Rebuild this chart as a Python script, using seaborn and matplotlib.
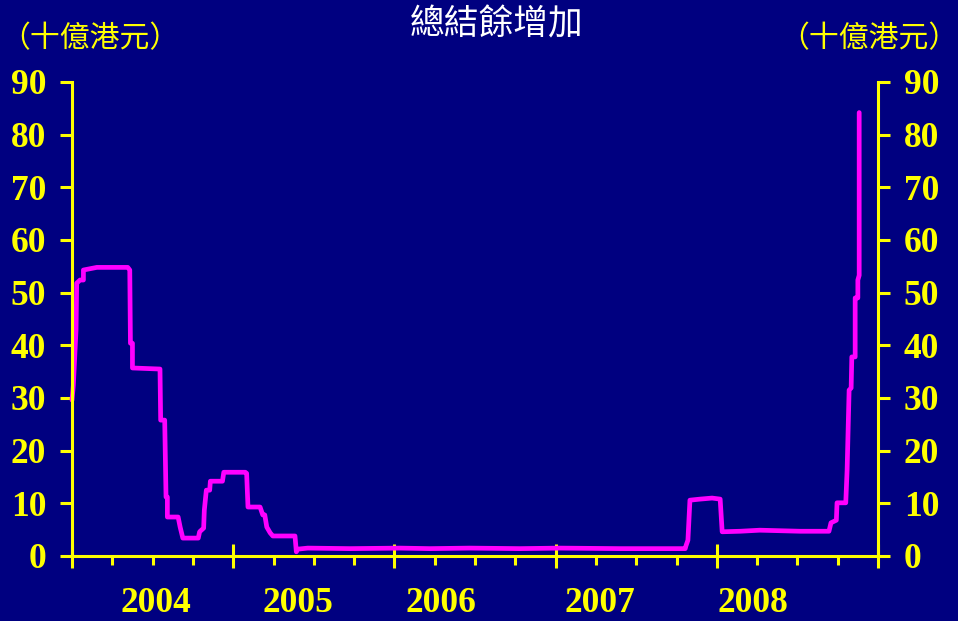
import numpy as np
import pandas as pd
import matplotlib
matplotlib.use("Agg")
import matplotlib.pyplot as plt
import matplotlib.transforms as mtransforms
import seaborn as sns

# ---- data (x = months since Jan 2004, y = HK$ billion) ----
months = [0.0, 0.1, 0.3, 0.35, 0.6, 0.85, 0.85, 1.45, 1.85, 4.15, 4.3, 4.35, 4.5, 4.5,
          6.55, 6.6, 6.9, 7.0, 7.1, 7.1, 7.9, 8.05, 8.25, 9.4, 9.5, 9.8, 9.85, 10.0,
          10.25, 10.3, 11.2, 11.3, 12.9, 13.0, 13.1, 14.0, 14.2, 14.35, 14.5, 14.75,
          14.95, 16.6, 16.7, 16.8, 17.55, 20.7, 24.4, 26.65, 29.6, 33.35, 36.3, 40.8,
          43.8, 45.65, 45.7, 45.85, 46.0, 46.75, 47.65, 48.25, 48.4, 49.75, 51.2, 54.2,
          56.35, 56.5, 56.9, 56.95, 57.6, 57.7, 57.85, 58.0, 58.05, 58.3, 58.3, 58.5,
          58.5, 58.6, 58.6]
balance = [29.6, 32.4, 42.9, 51.8, 52.4, 52.4, 54.3, 54.6, 54.8, 54.8, 54.3, 40.4, 40.4, 35.7,
           35.5, 25.8, 25.8, 11.2, 11.2, 7.4, 7.4, 5.5, 3.4, 3.4, 4.6, 5.3, 8.7, 12.5,
           12.5, 14.2, 14.2, 15.9, 15.9, 15.7, 9.3, 9.3, 7.8, 7.8, 5.5, 4.4,
           3.8, 3.8, 0.8, 1.3, 1.5, 1.4, 1.5, 1.4, 1.5, 1.4, 1.5, 1.4,
           1.4, 1.4, 1.9, 3.0, 10.6, 10.8, 11.0, 10.8, 4.6, 4.7, 4.9, 4.7,
           4.7, 6.3, 6.8, 10.1, 10.1, 16.3, 31.5, 31.9, 37.8, 37.8, 49.0, 49.0,
           52.4, 53.3, 84.2]

year_labels = ["2004", "2005", "2006", "2007", "2008"]
year_label_pos = [6.25, 16.8, 27.5, 39.3, 50.7]
major_x = [0, 12, 24, 36, 48, 60]
minor_x = list(range(0, 61, 3))
y_ticks = [0, 10, 20, 30, 40, 50, 60, 70, 80, 90]

title = "總結餘增加"
unit = "（十億港元）"

NAVY = "#000080"
YELLOW = "#FFFF00"
MAGENTA = "#FF00FF"

sns.set_theme(style="ticks", rc={"figure.facecolor": NAVY, "axes.facecolor": NAVY,
                                 "savefig.facecolor": NAVY})
plt.rcParams["font.family"] = ["Noto Sans CJK TC", "DejaVu Sans"]

fig = plt.figure(figsize=(9.58, 6.21), dpi=100)
ax = fig.add_axes([72 / 958, 1 - 556 / 621, (878 - 72) / 958, (556 - 82) / 621])

df = pd.DataFrame({"month": months, "balance": balance})
sns.lineplot(data=df, x="month", y="balance", estimator=None, sort=False,
             color=MAGENTA, linewidth=3.4, ax=ax, clip_on=False)

ax.set_xlim(0, 60)
ax.set_ylim(0, 90)
ax.set_xlabel("")
ax.set_ylabel("")

for side in ["left", "right", "bottom"]:
    ax.spines[side].set_visible(True)
    ax.spines[side].set_color(YELLOW)
    ax.spines[side].set_linewidth(2.2)
ax.spines["top"].set_visible(False)

ax.set_xticks(major_x)
ax.set_xticks(minor_x, minor=True)
ax.set_xticklabels([])
ax.tick_params(axis="x", which="major", direction="inout", length=17, width=2.2,
               color=YELLOW, labelbottom=False)
ax.tick_params(axis="x", which="minor", direction="out", length=6.5, width=2.2,
               color=YELLOW)

ax.set_yticks(y_ticks)
ax.set_yticklabels([str(v) for v in y_ticks])
ax.tick_params(axis="y", which="major", direction="out", length=8.5, width=2.2,
               color=YELLOW, left=True, right=True, labelleft=True, labelright=True,
               pad=10, labelcolor=YELLOW)
for lab in ax.get_yticklabels():
    lab.set_fontfamily("Liberation Serif")
    lab.set_fontweight("bold")
    lab.set_fontsize(25.5)

trans = mtransforms.blended_transform_factory(ax.transData, fig.transFigure)
for pos, lab in zip(year_label_pos, year_labels):
    fig.text(pos, 1 - 604 / 621, lab, transform=trans, ha="center", va="center",
             color=YELLOW, fontfamily="Liberation Serif", fontweight="bold",
             fontsize=25.5)

fig.text(497 / 958, 1 - 25 / 621, title, ha="center", va="center", color="white",
         fontsize=25)
fig.text(0.0, 1 - 39 / 621, unit, ha="left", va="center", color=YELLOW,
         fontsize=21.5)
fig.text(1.0, 1 - 39 / 621, unit, ha="right", va="center", color=YELLOW,
         fontsize=21.5)

fig.savefig("out.png", dpi=100, facecolor=NAVY)
